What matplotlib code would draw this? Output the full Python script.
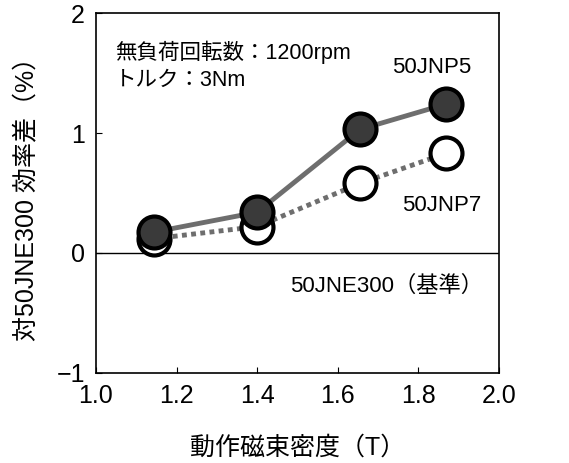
import matplotlib
matplotlib.use("Agg")
import matplotlib.pyplot as plt

plt.rcParams['font.family'] = ['Liberation Sans', 'Noto Sans CJK JP']

# data
flux = [1.145, 1.40, 1.655, 1.868]
jnp5 = [0.175, 0.34, 1.03, 1.24]
jnp7 = [0.12, 0.22, 0.58, 0.83]
xticks = [1.0, 1.2, 1.4, 1.6, 1.8, 2.0]
yticks = [-1, 0, 1, 2]

fig = plt.figure(figsize=(5.69, 4.63), dpi=100)
ax = fig.add_axes([0.1687, 0.1944, 0.7083, 0.7775])

ax.axhline(0, color="black", lw=1.0, zorder=1)

# 50JNP7: dotted line, open circles
ax.plot(flux, jnp7, color="#6e6e6e", lw=3.5, ls=(0, (1.0, 0.9)),
        dash_capstyle="butt", zorder=2)
ax.plot(flux, jnp7, ls="none", marker="o", ms=23, mfc="white",
        mec="black", mew=3, zorder=3)

# 50JNP5: solid line, filled circles
ax.plot(flux, jnp5, color="#6e6e6e", lw=3.5, zorder=4)
ax.plot(flux, jnp5, ls="none", marker="o", ms=23, mfc="#3a3a3a",
        mec="black", mew=3, zorder=5)

ax.set_xlim(1.0, 2.0)
ax.set_ylim(-1, 2)
ax.set_xticks(xticks)
ax.set_xticklabels([f"{t:.1f}" for t in xticks])
ax.set_yticks(yticks)
ax.set_yticklabels(["\u22121", "0", "1", "2"])
ax.tick_params(direction="in", length=4, width=0.8, labelsize=18, pad=8)
for s in ax.spines.values():
    s.set_linewidth(1.2)

ax.set_xlabel("動作磁束密度（T）", fontsize=18, labelpad=20)
ax.set_ylabel("対50JNE300 効率差（%）", fontsize=18, labelpad=12)

ax.text(0.047, 0.892, "無負荷回転数：1200rpm", transform=ax.transAxes,
        fontsize=15.5, va="center")
ax.text(0.047, 0.814, "トルク：3Nm", transform=ax.transAxes,
        fontsize=15.5, va="center")
ax.text(1.834, 1.55, "50JNP5", fontsize=16, ha="center", va="center")
ax.text(1.857, 0.40, "50JNP7", fontsize=16, ha="center", va="center")
ax.text(1.722, -0.28, "50JNE300（基準）", fontsize=16, ha="center", va="center")

fig.savefig("out.png", dpi=100)
